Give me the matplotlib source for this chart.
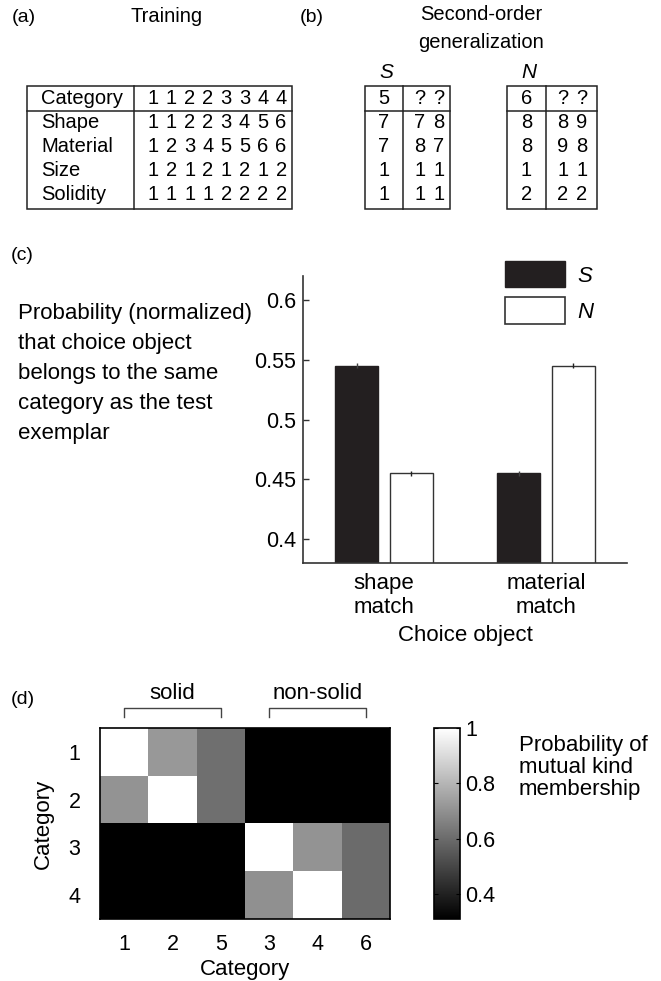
import numpy as np
import matplotlib
matplotlib.use("Agg")
import matplotlib.pyplot as plt
from matplotlib.patches import Patch, Rectangle

plt.rcParams['font.family'] = ['Liberation Sans', 'DejaVu Sans']
plt.rcParams['font.size'] = 15

# ---------------- data ----------------
# (a) training table
train_rows = ["Category", "Shape", "Material", "Size", "Solidity"]
train_vals = [[1, 1, 2, 2, 3, 3, 4, 4],
              [1, 1, 2, 2, 3, 4, 5, 6],
              [1, 2, 3, 4, 5, 5, 6, 6],
              [1, 2, 1, 2, 1, 2, 1, 2],
              [1, 1, 1, 1, 2, 2, 2, 2]]

# (b) second-order generalization tables
s_test = [5, 7, 7, 1, 1]
s_choices = [["?", "?"], [7, 8], [8, 7], [1, 1], [1, 1]]
n_test = [6, 8, 8, 1, 2]
n_choices = [["?", "?"], [8, 9], [9, 8], [1, 1], [2, 2]]

# (c) bar chart
choice_labels = ["shape\nmatch", "material\nmatch"]
series_names = ["S", "N"]
prob_S = [0.545, 0.455]
prob_N = [0.455, 0.545]
err_S = [0.002, 0.002]
err_N = [0.002, 0.002]
c_text = ["Probability (normalized)", "that choice object", "belongs to the same",
          "category as the test", "exemplar"]

# (d) mutual kind membership
col_labels = ["1", "2", "5", "3", "4", "6"]
row_labels = ["1", "2", "3", "4"]
kind_prob = np.array([
    [1.00, 0.72, 0.61, 0.31, 0.31, 0.31],
    [0.71, 1.00, 0.61, 0.31, 0.31, 0.31],
    [0.31, 0.31, 0.31, 1.00, 0.71, 0.60],
    [0.31, 0.31, 0.31, 0.70, 1.00, 0.60],
])
cbar_ticks = [0.4, 0.6, 0.8, 1.0]
d_text = ["Probability of", "mutual kind", "membership"]

W, H = 661, 981
fig = plt.figure(figsize=(W / 100, H / 100), dpi=100)

# overlay in pixel coordinates for tables and loose text
ov = fig.add_axes([0, 0, 1, 1])
ov.set_xlim(0, W)
ov.set_ylim(H, 0)
ov.axis('off')

line_c = '#222222'
tfs = 14.5
fs = 16
row_y0, row_dy = 98, 24
top, hline, bottom = 86, 111, 209


def box(x0, x1, xdiv):
    ov.add_patch(Rectangle((x0, top), x1 - x0, bottom - top, fill=False,
                           ec=line_c, lw=1.1))
    ov.plot([xdiv, xdiv], [top, bottom], color=line_c, lw=1.1)
    ov.plot([x0, x1], [hline, hline], color=line_c, lw=1.1)


# (a)
ov.text(12, 17, "(a)", fontsize=14, va='center')
ov.text(167, 17, "Training", fontsize=14.5, ha='center', va='center')
box(27, 292, 134)
for i, (lab, vals) in enumerate(zip(train_rows, train_vals)):
    y = row_y0 + i * row_dy
    ov.text(41, y, lab, fontsize=tfs, va='center')
    for j, v in enumerate(vals):
        ov.text(153 + j * 18.3, y, str(v), fontsize=tfs, ha='center', va='center')

# (b)
ov.text(300, 17, "(b)", fontsize=14, va='center')
ov.text(481, 15, "Second-order", fontsize=14.5, ha='center', va='center')
ov.text(481, 42, "generalization", fontsize=14.5, ha='center', va='center')


def test_table(x0, x1, xdiv, name, first, choices):
    ov.text((x0 + xdiv) / 2 + 2, 72, name, fontsize=15, style='italic',
            ha='center', va='center')
    box(x0, x1, xdiv)
    c0 = (x0 + xdiv) / 2
    for i, (f, ch) in enumerate(zip(first, choices)):
        y = row_y0 + i * row_dy
        ov.text(c0, y, str(f), fontsize=tfs, ha='center', va='center')
        for j, v in enumerate(ch):
            ov.text(xdiv + 17 + j * 19, y, str(v), fontsize=tfs, ha='center', va='center')


test_table(365, 450, 403, "S", s_test, s_choices)
test_table(507, 597, 546, "N", n_test, n_choices)

# (c)
ov.text(11, 255, "(c)", fontsize=14, va='center')
for i, line in enumerate(c_text):
    ov.text(18, 313 + i * 30, line, fontsize=fs, va='center')

ax = fig.add_axes([303 / W, 1 - 563 / H, 324 / W, 287 / H])
x = np.arange(1, len(choice_labels) + 1)
bw = 0.265
off = 0.168
ax.bar(x - off, prob_S, bw, color='#231f20', edgecolor='#231f20', lw=1)
ax.bar(x + off, prob_N, bw, color='white', edgecolor='#333333', lw=1)
ax.errorbar(x - off, prob_S, yerr=err_S, fmt='none', ecolor='#444444', elinewidth=1, capsize=0)
ax.errorbar(x + off, prob_N, yerr=err_N, fmt='none', ecolor='#222222', elinewidth=1, capsize=0)
ax.set_xlim(0.5, 2.5)
ax.set_ylim(0.38, 0.62)
ax.set_yticks([0.4, 0.45, 0.5, 0.55, 0.6])
ax.set_yticklabels(["0.4", "0.45", "0.5", "0.55", "0.6"])
ax.set_xticks(x)
ax.set_xticklabels(choice_labels)
ax.tick_params(axis='y', direction='in', length=4, width=1, color='#333333', pad=5, labelsize=15.5)
ax.tick_params(axis='x', length=0, pad=7, labelsize=fs)
ax.set_xlabel("Choice object", fontsize=fs, labelpad=5)
for s in ['top', 'right']:
    ax.spines[s].set_visible(False)
for s in ['left', 'bottom']:
    ax.spines[s].set_color('#333333')
    ax.spines[s].set_linewidth(1.2)
handles = [Patch(facecolor='#231f20', edgecolor='#231f20'),
           Patch(facecolor='white', edgecolor='#333333', lw=1.2)]
ax.legend(handles, series_names, loc='upper left', frameon=False,
          bbox_to_anchor=(505 / W, 1 - 261 / H), bbox_transform=fig.transFigure,
          borderpad=0, borderaxespad=0, handlelength=2.7, handleheight=1.45,
          labelspacing=0.45, handletextpad=0.55, prop={'style': 'italic', 'size': fs})

# (d)
ov.text(11, 700, "(d)", fontsize=14, va='center')
hm = fig.add_axes([100 / W, 1 - 919 / H, 290 / W, 191 / H])
im = hm.imshow(kind_prob, cmap='gray', vmin=0.31, vmax=1.0, aspect='auto',
               interpolation='nearest')
hm.set_xticks(range(len(col_labels)))
hm.set_xticklabels(col_labels)
hm.set_yticks(range(len(row_labels)))
hm.set_yticklabels(row_labels)
hm.tick_params(length=0, labelsize=15.5)
hm.tick_params(axis='x', pad=11)
hm.tick_params(axis='y', pad=14)
hm.set_xlabel("Category", fontsize=fs, labelpad=3)
hm.set_ylabel("Category", fontsize=fs)
hm.yaxis.set_label_coords(-0.16, 0.5)
for s in hm.spines.values():
    s.set_linewidth(1.2)

# brackets over column groups
for (a, b), lab in [((0, 2), "solid"), ((3, 5), "non-solid")]:
    hm.plot([a, a, b, b], [-0.72, -0.92, -0.92, -0.72], color='#444444', lw=1,
            clip_on=False)
    hm.text((a + b) / 2, -1.22, lab, fontsize=fs, ha='center', va='center')
hm.set_xlim(-0.5, 5.5)
hm.set_ylim(3.5, -0.5)

cax = fig.add_axes([434 / W, 1 - 919 / H, 26 / W, 191 / H])
cb = fig.colorbar(im, cax=cax, ticks=cbar_ticks)
cb.set_ticklabels(["0.4", "0.6", "0.8", "1"])
cax.tick_params(direction='in', length=3, left=True, right=True, labelsize=15.5, pad=4)
cb.outline.set_linewidth(1.2)
for i, line in enumerate(d_text):
    ov.text(519, 745 + i * 22.5, line, fontsize=fs, va='center', ha='left')
ov.set_zorder(-1)

fig.savefig("out.png", dpi=100)
